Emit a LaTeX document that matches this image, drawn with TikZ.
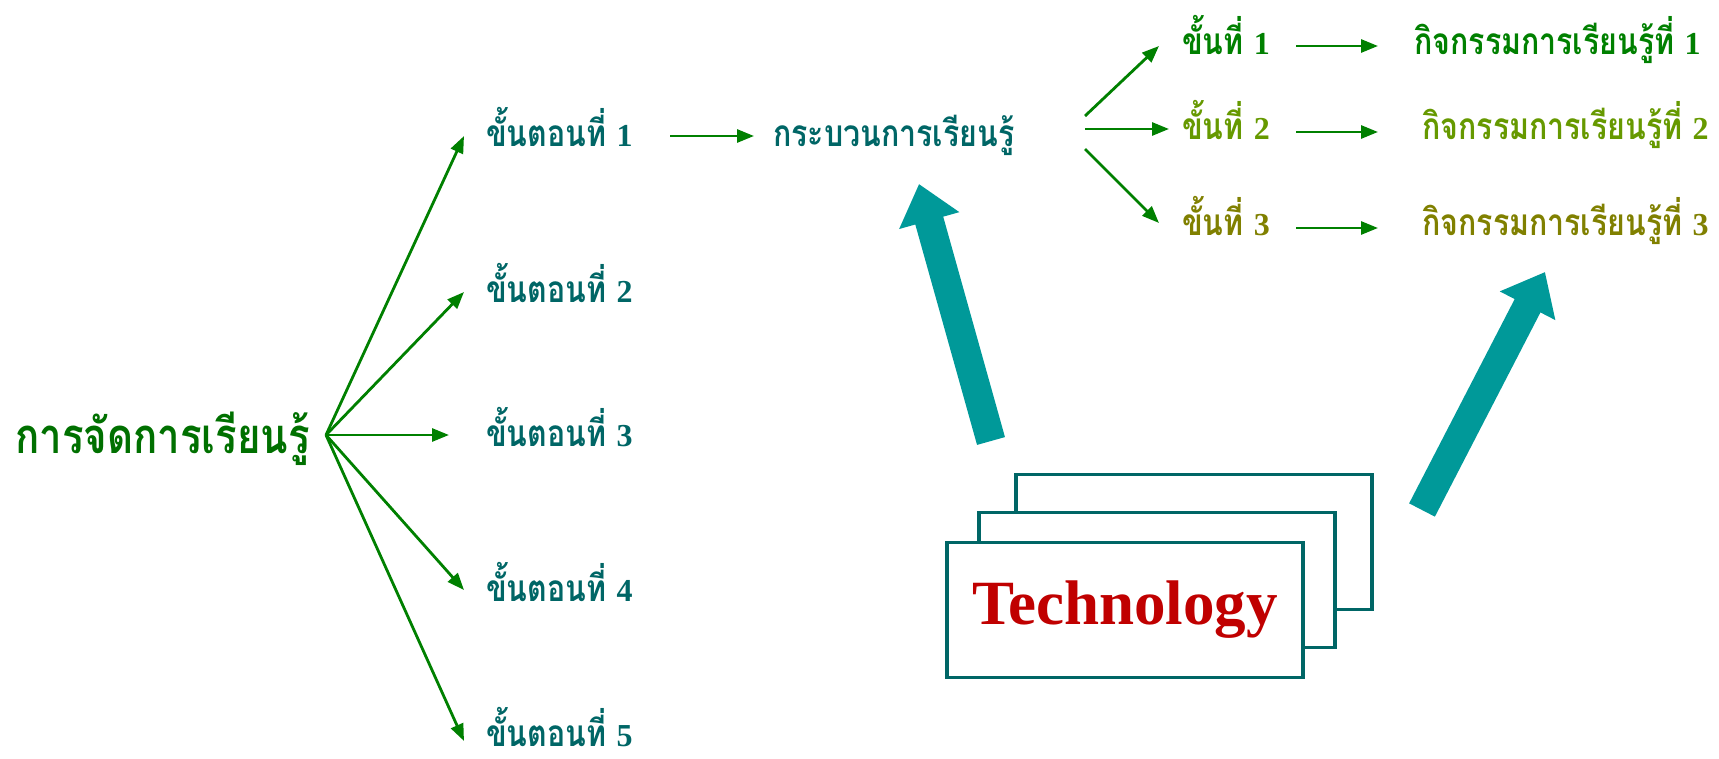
\documentclass[tikz,border=0pt]{standalone}
\usepackage{fontspec}
\setmainfont{Liberation Serif}
\newfontfamily\thaifont[Script=Thai,FakeStretch=0.82]{Loma}
\usetikzlibrary{arrows.meta,positioning}

\definecolor{tealtext}{RGB}{0,102,102}
\definecolor{maingreen}{RGB}{0,112,0}
\definecolor{arrowgreen}{RGB}{0,128,0}
\definecolor{stepgreen}{RGB}{0,128,0}
\definecolor{steplime}{RGB}{102,153,0}
\definecolor{stepolive}{RGB}{128,128,0}
\definecolor{bigteal}{RGB}{0,153,153}
\definecolor{techred}{RGB}{192,0,0}

\newcommand\dg[1]{{\rmfamily\bfseries\fontsize{32}{32}\selectfont #1}}

\tikzset{
  thai/.style={font=\thaifont\bfseries\fontsize{#1}{#1}\selectfont, inner sep=0pt, anchor=base west},
  stage/.style={thai=37, text=tealtext},
  substep/.style={thai=37},
  thin arrow/.style={-{Triangle[length=17pt,width=13pt]}, line width=2.8pt, draw=arrowgreen},
  big arrow/.style={-{Triangle[length=38pt,width=60pt]}, line width=29pt, draw=bigteal},
  card/.style={draw=tealtext, line width=3.5pt, fill=white,
    minimum width=356pt, minimum height=135pt, inner sep=0pt},
}

\begin{document}
\begin{tikzpicture}[x=1pt,y=-1pt]
  \useasboundingbox (0,0) rectangle (1719,759);

  % left fan
  \node (manage) at (15,453) [thai=49, text=maingreen] {การจัดการเรียนรู้};
  \coordinate (fan) at (326,435);
  \node (s1) at (486,147) [stage] {ขั้นตอนที่ \dg{1}};
  \node (s2) at (486,303) [stage] {ขั้นตอนที่ \dg{2}};
  \node (s3) at (486,446) [stage] {ขั้นตอนที่ \dg{3}};
  \node (s4) at (486,601) [stage] {ขั้นตอนที่ \dg{4}};
  \node (s5) at (486,746) [stage] {ขั้นตอนที่ \dg{5}};
  \draw [thin arrow] (fan) -- ([xshift=-22pt,yshift=11pt]s1.base west);
  \draw [thin arrow] (fan) -- ([xshift=-22pt,yshift=11pt]s2.base west);
  \draw [thin arrow] (fan) -- ([xshift=-37pt,yshift=11pt]s3.base west);
  \draw [thin arrow] (fan) -- ([xshift=-22pt,yshift=11pt]s4.base west);
  \draw [thin arrow] (fan) -- ([xshift=-22pt,yshift=5pt]s5.base west);

  % learning process
  \node (learn) at (773,147) [thai=37, text=tealtext] {กระบวนการเรียนรู้};
  \draw [thin arrow] ([xshift=184pt,yshift=11pt]s1.base west) -- ([xshift=-19pt,yshift=11pt]learn.base west);

  % right fan
  \node (k1) at (1182,55) [substep, text=stepgreen] {ขั้นที่ \dg{1}};
  \node (k2) at (1182,140) [substep, text=steplime] {ขั้นที่ \dg{2}};
  \node (k3) at (1182,236) [substep, text=stepolive] {ขั้นที่ \dg{3}};
  \draw [thin arrow] ([xshift=312pt,yshift=31pt]learn.base west) -- ([xshift=-23pt,yshift=9pt]k1.base west);
  \draw [thin arrow] ([xshift=312pt,yshift=18pt]learn.base west) -- ([xshift=-13pt,yshift=11pt]k2.base west);
  \draw [thin arrow] ([xshift=312pt,yshift=-2pt]learn.base west) -- ([xshift=-23pt,yshift=13pt]k3.base west);

  \node (a1) at (1414,55) [substep, text=stepgreen] {กิจกรรมการเรียนรู้ที่ \dg{1}};
  \node (a2) at (1422,140) [substep, text=steplime] {กิจกรรมการเรียนรู้ที่ \dg{2}};
  \node (a3) at (1422,236) [substep, text=stepolive] {กิจกรรมการเรียนรู้ที่ \dg{3}};
  \draw [thin arrow] ([xshift=114pt,yshift=9pt]k1.base west) -- ([xshift=-36pt,yshift=9pt]a1.base west);
  \draw [thin arrow] ([xshift=114pt,yshift=8pt]k2.base west) -- ([xshift=-44pt,yshift=8pt]a2.base west);
  \draw [thin arrow] ([xshift=114pt,yshift=8pt]k3.base west) -- ([xshift=-44pt,yshift=8pt]a3.base west);

  % technology cards
  \node (card3) at (1194,542) [card] {};
  \node (card2) at (1157,580) [card] {};
  \node (tech) at (1125,610) [card, font=\bfseries\fontsize{63}{63}\selectfont, text=techred] {Technology};

  \coordinate (t1) at (991,441);
  \coordinate (h1) at (919,184);
  \coordinate (t2) at (1422,510);
  \coordinate (h2) at (1545,272);
  \draw [big arrow] (t1) -- (h1);
  \draw [big arrow] (t2) -- (h2);
\end{tikzpicture}
\end{document}
